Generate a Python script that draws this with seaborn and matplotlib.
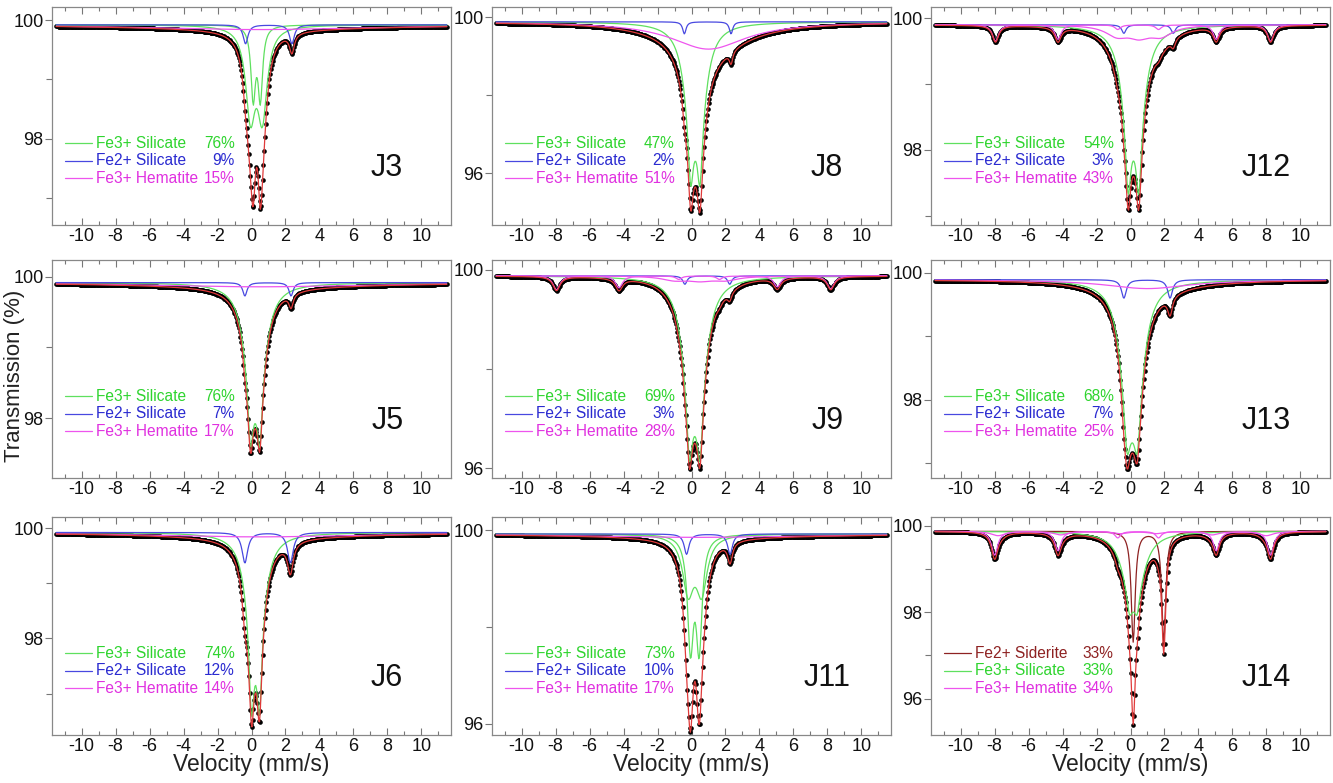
import numpy as np
import pandas as pd
import matplotlib
matplotlib.use("Agg")
import matplotlib.pyplot as plt
import seaborn as sns
from matplotlib.ticker import MultipleLocator

sns.set_theme(style="white")
plt.rcParams["font.family"] = ["Liberation Sans", "DejaVu Sans"]
plt.rcParams["axes.unicode_minus"] = False

# Spectral lines of each fitted component: (position mm/s, depth %, half width mm/s)
J3_FE3_A = [(-0.06, 1.45, 0.34), (0.64, 1.45, 0.34)]
J3_FE3_B = [(0.10, 1.20, 0.16), (0.52, 1.20, 0.16)]
J3_FE2 = [(-0.35, 0.32, 0.17), (2.38, 0.32, 0.17)]
J3_HEM = [(0.4, 0.08, 8.0)]

J8_FE3 = [(-0.05, 1.46, 0.17), (0.50, 1.46, 0.17), (-0.05, 1.80, 0.5), (0.50, 1.80, 0.5)]
J8_FE2 = [(-0.42, 0.31, 0.12), (2.33, 0.31, 0.12)]
J8_HEM = [(1.0, 0.70, 2.7)]

J12_FE3 = [(-0.14, 0.90, 0.17), (0.49, 0.90, 0.17), (-0.14, 1.16, 0.5), (0.49, 1.16, 0.5)]
J12_FE2 = [(-0.39, 0.13, 0.15), (2.52, 0.13, 0.15)]
J12_HEM_SEXTET = [(-7.95, 0.25, 0.22), (-4.27, 0.22, 0.22), (-0.75, 0.07, 0.2),
                  (1.65, 0.07, 0.2), (5.05, 0.22, 0.22), (8.25, 0.25, 0.22)]
J12_HEM_BROAD = [(-0.8, 0.15, 0.8), (0.5, 0.15, 0.8), (1.8, 0.15, 0.8)]

J5_FE3 = [(-0.06, 0.78, 0.17), (0.49, 0.78, 0.17), (-0.06, 1.02, 0.5), (0.49, 1.02, 0.5)]
J5_FE2 = [(-0.39, 0.19, 0.15), (2.33, 0.19, 0.15)]
J5_HEM = [(0.4, 0.06, 8.0)]

J9_FE3 = [(-0.12, 0.98, 0.17), (0.50, 0.98, 0.17), (-0.12, 1.93, 0.5), (0.50, 1.93, 0.5)]
J9_FE2 = [(-0.39, 0.17, 0.15), (2.25, 0.17, 0.15)]
J9_HEM_SEXTET = [(-7.95, 0.28, 0.25), (-4.27, 0.24, 0.25), (-0.75, 0.07, 0.2),
                 (1.65, 0.07, 0.2), (5.05, 0.22, 0.25), (8.20, 0.26, 0.25)]
J9_HEM_BROAD = [(-1.0, 0.08, 0.9), (0.5, 0.08, 0.9), (2.0, 0.08, 0.9)]

J13_FE3 = [(-0.20, 0.44, 0.17), (0.40, 0.44, 0.17), (-0.20, 1.60, 0.5), (0.40, 1.60, 0.5)]
J13_FE2 = [(-0.39, 0.29, 0.17), (2.33, 0.29, 0.17)]
J13_HEM = [(1.0, 0.14, 3.0)]

J6_FE3 = [(0.0, 1.55, 0.17), (0.47, 1.55, 0.17), (0.0, 1.04, 0.5), (0.47, 1.04, 0.5)]
J6_FE2 = [(-0.39, 0.55, 0.2), (2.29, 0.55, 0.2)]
J6_HEM = [(0.4, 0.08, 8.0)]

J11_FE3_A = [(-0.20, 1.13, 0.39), (0.60, 1.13, 0.39)]
J11_FE3_B = [(-0.06, 2.25, 0.21), (0.45, 2.25, 0.21)]
J11_FE2 = [(-0.29, 0.42, 0.17), (2.27, 0.42, 0.17)]
J11_HEM = [(0.4, 0.07, 8.0)]

J14_SID = [(0.16, 2.55, 0.14), (1.96, 2.55, 0.14)]
J14_FE3 = [(-0.06, 0.40, 0.17), (0.39, 0.40, 0.17), (-0.06, 0.90, 0.6), (0.39, 0.90, 0.6)]
J14_HEM_A = [(-8.00, 0.55, 0.22), (-4.27, 0.45, 0.22), (-0.75, 0.15, 0.2),
             (1.65, 0.15, 0.2), (5.05, 0.45, 0.22), (8.25, 0.55, 0.22)]
J14_HEM_B = [(-7.8, 0.10, 0.5), (-4.1, 0.08, 0.5), (-0.6, 0.05, 0.5),
             (1.5, 0.05, 0.5), (4.8, 0.08, 0.5), (8.0, 0.10, 0.5)]

SAMPLES = ["J3", "J8", "J12", "J5", "J9", "J13", "J6", "J11", "J14"]
BASELINES = [99.92, 99.88, 99.9, 99.92, 99.88, 99.89, 99.92, 99.92, 99.87]
FE3_PCT = [76, 47, 54, 76, 69, 68, 74, 73, 33]
FE2_PCT = [9, 2, 3, 7, 3, 7, 12, 10, 33]
HEM_PCT = [15, 51, 43, 17, 28, 25, 14, 17, 34]
Y_LIMITS = [(96.55, 100.22), (94.67, 100.26), (96.86, 100.17),
            (97.15, 100.24), (95.8, 100.2), (96.77, 100.2),
            (96.25, 100.2), (95.77, 100.27), (95.16, 100.2)]
Y_MAJOR = [[98, 100], [96, 100], [98, 100],
           [98, 100], [96, 100], [98, 100],
           [98, 100], [96, 100], [96, 98, 100]]
Y_MINOR = [[97, 99], [98], [97, 99],
           [99], [98], [97, 99],
           [97, 99], [98], [97, 99]]

GREEN = "#5fe05f"
GREEN_TXT = "#2ed42e"
BLUE = "#4848e0"
BLUE_TXT = "#2a2ad0"
MAGENTA = "#ee55ee"
MAGENTA_TXT = "#e030e0"
RED = "#e03a3a"
SIDERITE = "#8e2222"

COMPONENTS = {
    "J3": [(GREEN, J3_FE3_A), (GREEN, J3_FE3_B), (BLUE, J3_FE2), (MAGENTA, J3_HEM)],
    "J8": [(GREEN, J8_FE3), (BLUE, J8_FE2), (MAGENTA, J8_HEM)],
    "J12": [(GREEN, J12_FE3), (BLUE, J12_FE2), (MAGENTA, J12_HEM_SEXTET), (MAGENTA, J12_HEM_BROAD)],
    "J5": [(GREEN, J5_FE3), (BLUE, J5_FE2), (MAGENTA, J5_HEM)],
    "J9": [(GREEN, J9_FE3), (BLUE, J9_FE2), (MAGENTA, J9_HEM_SEXTET), (MAGENTA, J9_HEM_BROAD)],
    "J13": [(GREEN, J13_FE3), (BLUE, J13_FE2), (MAGENTA, J13_HEM)],
    "J6": [(GREEN, J6_FE3), (BLUE, J6_FE2), (MAGENTA, J6_HEM)],
    "J11": [(GREEN, J11_FE3_A), (GREEN, J11_FE3_B), (BLUE, J11_FE2), (MAGENTA, J11_HEM)],
    "J14": [(SIDERITE, J14_SID), (GREEN, J14_FE3), (MAGENTA, J14_HEM_A), (MAGENTA, J14_HEM_B)],
}

# Source velocity of each detector channel
VELOCITY = np.linspace(-11.5, 11.5, 512)


def absorption(lines, v):
    out = np.zeros_like(v)
    for pos, depth, hwhm in lines:
        out += depth / (1.0 + ((v - pos) / hwhm) ** 2)
    return out


W, H = 1333, 783
fig = plt.figure(figsize=(W / 100, H / 100), dpi=100)
fig.patch.set_facecolor("white")

COL_LEFT = [52, 492, 931]
COL_WIDTH = 399
ROW_TOP = [7, 260, 517]
ROW_HEIGHT = 218

for idx, name in enumerate(SAMPLES):
    r, c = divmod(idx, 3)
    left, top = COL_LEFT[c], ROW_TOP[r]
    ax = fig.add_axes([left / W, 1 - (top + ROW_HEIGHT) / H, COL_WIDTH / W, ROW_HEIGHT / H])
    base = BASELINES[idx]
    comps = [(color, absorption(lines, VELOCITY)) for color, lines in COMPONENTS[name]]
    total = base - sum(a for _, a in comps)

    df = pd.DataFrame({"velocity": VELOCITY, "transmission": total})
    sns.scatterplot(data=df, x="velocity", y="transmission", ax=ax, color="black",
                    s=11, linewidth=0, zorder=2, legend=False)
    for color, a in comps:
        sns.lineplot(x=VELOCITY, y=base - a, ax=ax, color=color, lw=0.9,
                     estimator=None, sort=False, zorder=3)
    sns.lineplot(x=VELOCITY, y=total, ax=ax, color=RED, lw=0.9,
                 estimator=None, sort=False, zorder=4)

    ax.set_xlim(-11.75, 11.75)
    ax.set_ylim(*Y_LIMITS[idx])
    ax.xaxis.set_major_locator(MultipleLocator(2))
    ax.xaxis.set_minor_locator(MultipleLocator(1))
    ax.set_yticks(Y_MAJOR[idx])
    ax.set_yticklabels([str(t) for t in Y_MAJOR[idx]])
    ax.set_yticks(Y_MINOR[idx], minor=True)
    ax.tick_params(axis="x", which="both", direction="in", top=True, bottom=True,
                   labelsize=13, colors="#777777", labelcolor="#111111", pad=2.5)
    ax.tick_params(axis="x", which="major", length=5, width=0.8)
    ax.tick_params(axis="x", which="minor", length=3, width=0.8)
    ax.tick_params(axis="y", which="both", direction="out", left=True, right=False,
                   labelsize=13, colors="#777777", labelcolor="#111111", pad=1)
    ax.tick_params(axis="y", which="major", length=5, width=0.8)
    ax.tick_params(axis="y", which="minor", length=4, width=0.8)
    for s in ax.spines.values():
        s.set_color("#888888")
        s.set_linewidth(0.9)
    ax.set_xlabel("")
    ax.set_ylabel("")

    # Legend rows: line sample, phase name and area fraction
    if name == "J14":
        rows = [("Fe2+ Siderite", FE2_PCT[idx], SIDERITE, SIDERITE),
                ("Fe3+ Silicate", FE3_PCT[idx], GREEN, GREEN_TXT),
                ("Fe3+ Hematite", HEM_PCT[idx], MAGENTA, MAGENTA_TXT)]
    else:
        rows = [("Fe3+ Silicate", FE3_PCT[idx], GREEN, GREEN_TXT),
                ("Fe2+ Silicate", FE2_PCT[idx], BLUE, BLUE_TXT),
                ("Fe3+ Hematite", HEM_PCT[idx], MAGENTA, MAGENTA_TXT)]
    for k, (label, pct, lc, tc) in enumerate(rows):
        y = 0.376 - k * 0.081
        ax.plot([0.032, 0.100], [y, y], transform=ax.transAxes, color=lc, lw=0.9, zorder=5)
        ax.text(0.110, y, label, transform=ax.transAxes, color=tc, fontsize=11.2,
                ha="left", va="center", zorder=5)
        ax.text(0.458, y, f"{pct}%", transform=ax.transAxes, color=tc, fontsize=11.2,
                ha="right", va="center", zorder=5)

    ax.text(0.84, 0.26, name, transform=ax.transAxes, fontsize=22, ha="center",
            va="center", color="#111111", zorder=5)

    if r == 2:
        ax.text(0.5, (ROW_TOP[2] + ROW_HEIGHT - 771) / ROW_HEIGHT, "Velocity (mm/s)",
                transform=ax.transAxes, fontsize=16.5, ha="center", va="baseline",
                color="#222222")

fig.text(15 / W, 1 - 376 / H, "Transmission (%)", rotation=90, fontsize=16,
         ha="center", va="center", color="#222222")

fig.savefig("out.png", dpi=100, facecolor="white")
